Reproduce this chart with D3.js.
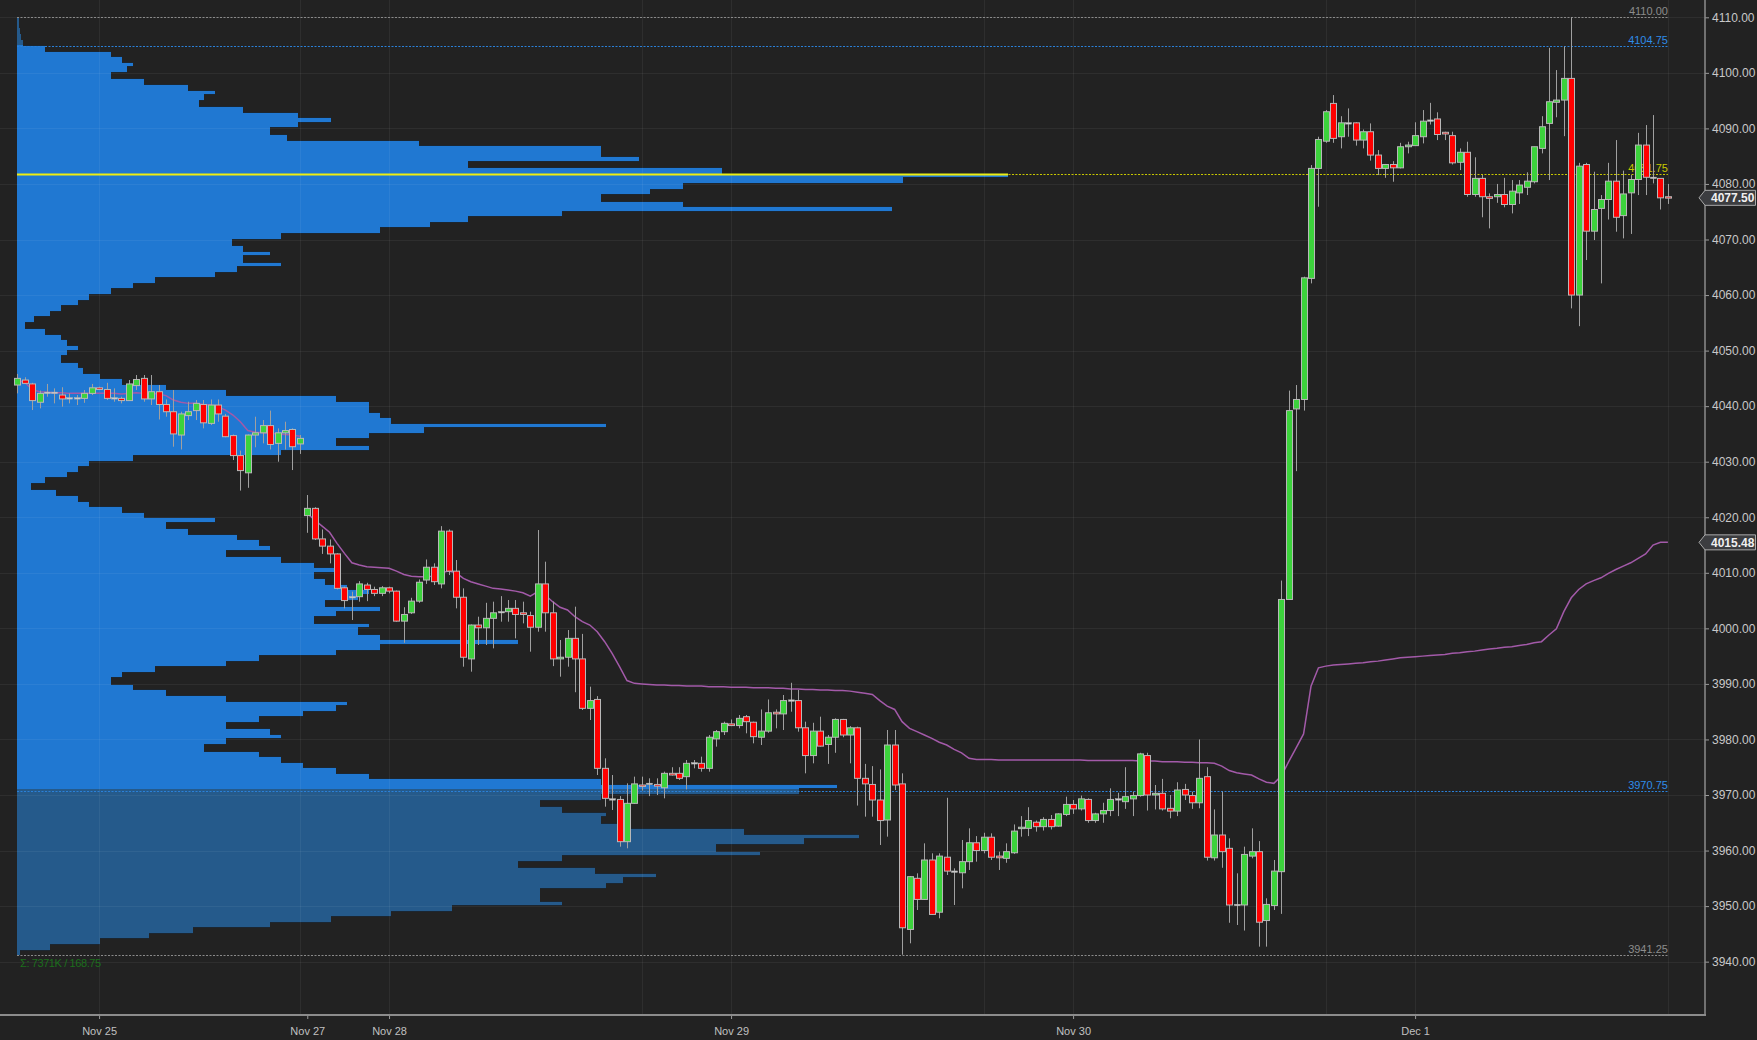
<!DOCTYPE html>
<html><head><meta charset="utf-8">
<script src="https://cdn.jsdelivr.net/npm/d3@7"></script>
<style>
html,body{margin:0;padding:0;background:#222222;overflow:hidden}
svg{display:block}
text{font-family:"Liberation Sans",Arial,sans-serif}
</style></head><body>
<svg id="chart" width="1757" height="1040"></svg>
<script>
// ---------------- DATA ----------------
const opens = [
4043.8,4044.7,4044.0,4040.7,4042.4,4042.4,4042.0,4041.4,4041.4,4041.4,
4042.3,4043.3,4043.0,4041.4,4041.4,4041.0,4043.7,4045.0,4041.3,4042.6,
4040.3,4039.0,4034.8,4038.3,4039.2,4040.3,4036.9,4040.2,4038.2,4034.7,
4031.1,4028.0,4034.8,4035.2,4036.5,4033.3,4035.2,4035.8,4033.2,4020.3,
4021.6,4016.1,4014.8,4013.4,4007.3,4005.5,4005.7,4007.8,4007.0,4006.3,
4007.3,4006.7,4001.3,4002.8,4004.9,4008.7,4011.0,4008.0,4017.5,4010.3,
4005.6,3994.5,4000.6,4000.1,4001.8,4002.9,4003.0,4003.6,4002.8,4002.3,
4000.2,4008.0,4002.8,3994.5,3994.8,3998.2,3994.5,3985.6,3987.2,3974.8,
3969.2,3969.2,3961.6,3968.5,3971.8,3972.0,3971.9,3971.3,3973.9,3973.9,
3973.3,3975.7,3975.7,3974.8,3980.1,3981.4,3982.8,3982.5,3984.1,3983.1,
3980.4,3981.5,3984.9,3984.6,3987.0,3987.0,3982.1,3977.1,3981.5,3979.1,
3980.4,3983.6,3980.8,3982.1,3973.0,3971.9,3969.1,3965.5,3979.0,3972.0,
3945.8,3955.0,3951.2,3958.3,3948.9,3958.8,3956.2,3956.0,3958.0,3961.4,
3960.0,3962.4,3959.0,3958.6,3959.6,3964.0,3964.0,3965.1,3964.3,3965.6,
3964.4,3966.5,3968.3,3967.5,3969.2,3965.4,3966.6,3967.2,3969.2,3968.8,
3969.3,3969.9,3977.1,3970.0,3970.3,3967.6,3967.1,3971.0,3969.9,3968.6,
3973.3,3958.7,3962.8,3960.4,3950.2,3950.2,3959.0,3959.8,3947.4,3950.1,
3956.2,4005.2,4039.5,4041.2,4063.0,4082.8,4087.7,4094.5,4088.5,4090.9,
4091.0,4087.9,4089.4,4085.2,4082.8,4083.5,4082.9,4086.7,4086.9,4088.5,
4091.4,4091.7,4089.3,4088.7,4083.9,4085.7,4078.1,4081.0,4077.7,4077.7,
4078.1,4076.3,4078.4,4079.4,4080.4,4086.4,4090.9,4094.7,4095.1,4099.0,
4060.0,4083.5,4071.5,4075.6,4077.2,4080.5,4074.3,4078.4,4080.8,4087.0,
4081.1,4081.0,4077.7];

const highs = [
4045.8,4045.2,4044.2,4042.8,4044.0,4043.2,4043.4,4042.3,4042.0,4042.9,
4044.0,4043.5,4044.2,4043.2,4041.7,4044.7,4045.6,4045.6,4045.6,4043.8,
4041.2,4042.9,4039.0,4040.8,4041.1,4041.1,4041.2,4041.2,4038.6,4034.9,
4032.0,4034.9,4038.1,4037.5,4039.2,4036.0,4037.2,4036.0,4034.8,4024.0,
4021.8,4017.8,4016.0,4013.5,4007.5,4006.6,4008.5,4008.2,4007.5,4007.6,
4007.5,4006.8,4003.8,4005.5,4008.8,4012.4,4011.7,4018.4,4017.8,4012.3,
4007.2,4000.7,4002.1,4004.6,4004.8,4005.8,4005.1,4005.1,4004.8,4003.0,
4017.7,4012.0,4004.8,3997.9,3999.7,4003.9,3999.0,3989.5,3987.8,3976.6,
3973.6,3969.8,3972.1,3973.3,3973.3,3973.0,3973.0,3974.2,3975.0,3975.0,
3976.3,3976.3,3976.9,3980.8,3981.7,3983.2,3983.6,3984.4,3984.4,3983.2,
3985.4,3987.2,3985.4,3988.0,3990.2,3988.9,3983.2,3983.0,3984.1,3980.8,
3983.8,3983.7,3982.4,3982.3,3975.6,3975.2,3974.6,3981.7,3981.7,3973.9,
3955.4,3955.9,3961.3,3959.5,3959.5,3969.5,3956.8,3961.9,3964.0,3962.6,
3963.2,3963.1,3959.8,3961.3,3964.7,3966.2,3967.8,3965.4,3966.0,3966.4,
3966.7,3969.7,3969.1,3969.9,3969.4,3966.8,3968.6,3971.2,3970.4,3975.0,
3970.6,3977.6,3977.6,3971.8,3972.9,3970.0,3972.3,3972.0,3970.6,3980.0,
3975.0,3967.4,3970.6,3962.2,3955.9,3960.7,3964.0,3961.7,3951.4,3958.3,
4008.6,4042.8,4043.8,4063.3,4083.4,4088.5,4093.3,4096.0,4092.2,4093.6,
4091.1,4089.8,4090.9,4086.1,4083.6,4084.1,4087.4,4087.6,4091.1,4093.3,
4094.6,4092.9,4089.4,4089.4,4086.4,4087.6,4084.8,4081.6,4078.3,4080.0,
4081.1,4080.7,4080.7,4082.1,4086.7,4092.2,4104.5,4100.5,4104.75,4110.0,
4083.8,4083.8,4082.2,4078.0,4083.8,4087.9,4082.4,4081.6,4089.2,4090.6,
4092.4,4081.0,4080.0];

const lows = [
4042.3,4044.0,4039.3,4039.6,4041.7,4040.5,4039.9,4040.5,4040.2,4040.6,
4042.0,4042.9,4041.1,4040.8,4040.5,4041.0,4042.9,4040.8,4040.2,4037.6,
4038.1,4032.7,4032.2,4037.5,4037.5,4036.0,4036.6,4037.2,4034.4,4030.3,
4024.8,4025.3,4032.6,4033.3,4032.2,4030.0,4032.2,4028.5,4031.4,4017.2,
4015.9,4013.4,4011.7,4007.0,4003.6,4001.5,4004.8,4004.9,4005.8,4005.8,
4006.3,4001.2,3997.4,4002.6,4004.6,4008.0,4007.8,4007.2,4009.6,4003.6,
3993.1,3992.2,3997.0,3997.0,3996.4,4001.2,4001.2,3998.2,4000.9,3995.8,
3999.4,3999.4,3993.2,3991.3,3993.1,3988.5,3985.3,3983.5,3973.6,3967.9,
3967.3,3960.7,3960.4,3968.4,3970.8,3969.8,3970.0,3969.4,3973.5,3972.7,
3971.0,3974.8,3974.2,3974.2,3978.7,3980.8,3982.4,3982.0,3981.1,3979.3,
3979.0,3981.2,3982.0,3981.7,3985.0,3981.4,3973.9,3975.7,3978.7,3975.6,
3977.6,3980.4,3975.7,3968.1,3966.1,3966.1,3961.0,3962.5,3970.9,3941.25,
3943.3,3949.3,3951.1,3948.4,3947.8,3955.6,3950.2,3953.2,3956.5,3958.0,
3959.5,3958.3,3956.5,3957.8,3959.4,3962.5,3962.6,3963.4,3963.6,3963.8,
3964.3,3966.2,3966.6,3967.2,3965.0,3965.0,3965.0,3966.2,3966.2,3967.5,
3966.2,3969.7,3967.2,3967.4,3967.2,3965.8,3966.2,3969.1,3967.5,3967.6,
3958.2,3958.2,3956.9,3947.0,3946.6,3945.6,3958.6,3942.7,3942.7,3949.3,
3948.6,4005.1,4028.3,4039.2,4062.1,4075.9,4087.4,4087.4,4086.4,4088.5,
4086.9,4086.4,4084.2,4081.6,4081.1,4080.4,4082.8,4085.5,4086.9,4087.3,
4090.7,4087.9,4087.9,4083.5,4082.5,4077.7,4077.7,4074.0,4072.0,4076.6,
4075.8,4074.7,4076.4,4078.0,4080.1,4085.5,4080.7,4092.0,4088.6,4057.6,
4054.4,4066.3,4069.9,4062.1,4073.6,4071.4,4070.2,4071.0,4078.0,4078.0,
4080.1,4075.4,4076.4];

const closes = [
4045.0,4044.1,4041.0,4042.3,4042.4,4042.3,4041.3,4041.4,4041.4,4042.3,
4043.3,4043.0,4041.4,4041.4,4041.0,4044.0,4044.8,4041.3,4042.6,4040.3,
4039.0,4035.0,4038.6,4039.0,4040.5,4037.0,4040.2,4038.6,4034.5,4031.1,
4028.4,4034.8,4035.2,4036.5,4033.1,4035.2,4035.6,4032.7,4034.2,4021.6,
4016.1,4014.8,4013.4,4007.2,4005.0,4005.6,4008.0,4007.0,4006.3,4007.3,
4006.7,4001.3,4002.5,4004.9,4008.3,4011.0,4008.4,4017.5,4010.3,4005.6,
3994.8,4000.6,4000.1,4001.8,4002.8,4002.9,4003.6,4002.5,4002.5,4000.2,
4008.0,4002.8,3994.5,3994.8,3998.2,3994.5,3985.6,3987.0,3974.8,3969.4,
3969.2,3961.6,3968.5,3972.0,3971.6,3972.0,3971.6,3973.9,3973.6,3973.0,
3975.7,3975.7,3974.8,3980.4,3981.4,3982.9,3982.5,3983.8,3983.2,3980.5,
3981.5,3984.8,3984.6,3987.0,3987.0,3982.1,3977.1,3981.5,3978.8,3980.4,
3983.6,3980.8,3982.1,3973.0,3972.0,3969.1,3965.4,3979.0,3971.8,3946.1,
3955.3,3951.2,3958.3,3948.5,3959.0,3956.3,3956.2,3958.0,3961.4,3960.0,
3962.4,3958.8,3958.7,3959.8,3963.5,3964.2,3965.4,3964.3,3965.6,3964.3,
3966.6,3968.3,3967.5,3969.3,3965.4,3966.6,3967.2,3969.2,3969.2,3969.7,
3969.9,3977.4,3970.0,3970.3,3967.5,3967.1,3970.9,3970.0,3968.6,3973.0,
3958.8,3962.8,3959.8,3950.2,3950.2,3959.3,3959.8,3947.1,3950.3,3956.3,
4005.2,4039.2,4041.2,4063.1,4082.8,4088.0,4093.0,4088.2,4091.0,4090.9,
4087.9,4089.4,4085.2,4082.8,4083.5,4082.9,4086.7,4087.0,4088.7,4091.3,
4091.4,4088.9,4089.0,4083.8,4085.7,4078.1,4081.0,4077.7,4077.4,4078.1,
4076.3,4078.7,4079.8,4080.5,4086.7,4090.3,4094.8,4095.1,4099.0,4060.0,
4083.2,4071.5,4075.4,4077.2,4080.5,4074.0,4078.2,4080.8,4087.0,4081.2,
4081.1,4077.5,4077.5];

// VWAP, one value per bar; it restarts at bar vwapReset
const vwap = [
4044.6,4044.3,4043.0,4042.6,4042.5,4042.4,4042.4,4042.3,4042.3,4042.3,
4042.3,4042.3,4042.3,4042.3,4042.2,4042.3,4042.4,4042.3,4042.3,4042.2,
4041.9,4041.1,4040.7,4040.5,4040.5,4040.3,4040.2,4039.9,4039.3,4038.4,
4037.2,4035.6,4035.3,4035.2,4035.1,4035.0,4034.9,4034.8,4034.6,4020.7,
4019.5,4018.4,4017.3,4015.3,4013.5,4011.8,4011.4,4011.1,4011.0,4010.9,
4010.8,4010.3,4009.7,4009.4,4009.3,4009.3,4009.4,4010.0,4010.3,4010.0,
4009.0,4008.4,4008.0,4007.6,4007.2,4007.1,4006.9,4006.7,4006.4,4005.8,
4006.6,4006.0,4004.8,4003.8,4003.3,4002.1,4001.2,4000.6,3999.4,3997.6,
3995.5,3993.1,3990.6,3990.1,3990.0,3989.9,3989.8,3989.8,3989.7,3989.7,
3989.6,3989.6,3989.6,3989.5,3989.5,3989.5,3989.4,3989.4,3989.4,3989.3,
3989.3,3989.3,3989.2,3989.2,3989.1,3989.1,3989.0,3989.0,3988.9,3988.9,
3988.8,3988.8,3988.7,3988.5,3988.3,3988.1,3987.0,3986.0,3985.4,3983.2,
3982.0,3981.4,3980.8,3980.2,3979.5,3979.0,3978.2,3977.6,3976.6,3976.4,
3976.4,3976.4,3976.3,3976.3,3976.3,3976.3,3976.3,3976.3,3976.3,3976.3,
3976.3,3976.3,3976.3,3976.3,3976.2,3976.2,3976.2,3976.2,3976.2,3976.2,
3976.2,3976.1,3976.1,3976.1,3976.0,3976.0,3976.0,3975.9,3975.9,3975.8,
3975.8,3975.7,3975.2,3974.4,3974.0,3973.8,3973.6,3972.9,3972.3,3972.1,
3973.4,3976.0,3978.5,3981.0,3989.6,3992.9,3993.2,3993.4,3993.5,3993.6,
3993.7,3993.8,3994.0,3994.1,3994.3,3994.5,3994.7,3994.8,3994.9,3995.0,
3995.1,3995.2,3995.3,3995.5,3995.6,3995.8,3995.9,3996.1,3996.3,3996.4,
3996.6,3996.7,3996.9,3997.1,3997.4,3997.6,3998.8,3999.9,4003.0,4005.5,
4007.0,4008.0,4008.6,4009.1,4009.9,4010.6,4011.2,4011.8,4012.6,4013.4,
4015.0,4015.5,4015.48];
const vwapReset = 39;

// Volume profile: volume (K) per 1-point level, from profileLow upward
const profileLow = 3941;
const profileVolumes = [
0.5,6,15,24,32,46,57,68,79,99,
95,95,107,110,116,105,91,99,135,127,
143,153,132,110,106,107,99,95,106,142,
149,106,64,58,52,48,44,34,38,48,
46,38,44,52,58,60,38,27,21,17,
19,25,38,44,58,66,91,66,62,64,
54,58,66,56,62,64,60,56,54,58,
54,48,38,46,44,40,31,27,36,23,
19,13,11,7,2.5,5,9,11,13,21,
48,64,58,64,74,107,68,66,64,64,
58,38,27,19,15,12,11,8,9,11,
9,8,5,1.5,3,6,8,11,13,17,
21,25,36,40,48,41,46,41,39,48,
66,75,82,99,159,121,106,115,121,161,
180,128,82,113,106,106,73,49,46,51,
57,51,41,33,34,36,31,23,17,20,
21,19,17,5,1,0.7,0.5,0.4,0.3];

const rangeHigh = 4110.00, vah = 4104.75, poc = 4081.75, val = 3970.75, rangeLow = 3941.25;
const lastPrice = 4077.50, lastVwap = 4015.48;
const summaryText = "Σ: 7371K / 168.75";

const yTicks = [3940,3950,3960,3970,3980,3990,4000,4010,4020,4030,4040,4050,4060,4070,4080,4090,4100,4110];
const dateTickIdx = [11, 39, 50, 96, 142, 188];
const dateLabels = ["Nov 25","Nov 27","Nov 28","Nov 29","Nov 30","Dec 1"];
const gridIdx = [11, 38, 50, 84, 96, 130, 142, 176, 188, 222];

// ---------------- LAYOUT ----------------
const W = 1757, H = 1040, plotRight = 1705, plotBottom = 1015;
const svg = d3.select("#chart");
svg.append("rect").attr("width", W).attr("height", H).attr("fill", "#222222");

const n = opens.length;
const x = d3.scaleLinear().domain([0, n - 1]).range([17.3, 1667.9]);
const y = d3.scaleLinear().domain([3940, 4110]).range([961.65, 17.3]);
const xVol = d3.scaleLinear().domain([0, d3.max(profileVolumes)]).range([17, 1008]);
const lineEnd = x(n - 1);

// ---- volume profile ----
const gProf = svg.append("g").attr("shape-rendering", "crispEdges");
const edgeLines = [];
profileVolumes.forEach((v, k) => {
  const p = profileLow + k;
  const inside = p >= Math.ceil(val) && p < vah;
  const y0 = Math.round(y(p + 1)), y1 = Math.round(y(p));
  const xr = xVol(v);
  gProf.append("rect")
    .attr("x", 17)
    .attr("y", y0)
    .attr("width", Math.max(0.5, xr - 17))
    .attr("height", y1 - y0)
    .attr("fill", inside ? "#2078d2" : "#255a8b");
  // dark step edge where this level sticks out beyond the level above
  const above = k + 1 < profileVolumes.length ? xVol(profileVolumes[k + 1]) : 17;
  if (xr > above + 2) edgeLines.push({x1: above, x2: xr, y: y0});
  const below = k > 0 ? xVol(profileVolumes[k - 1]) : 17;
  if (xr > below + 2) edgeLines.push({x1: below, x2: xr, y: y1 - 1});
});
edgeLines.forEach(e => gProf.append("rect").attr("x", e.x1).attr("y", e.y)
  .attr("width", e.x2 - e.x1).attr("height", 1).attr("fill", "#1b2631"));

// ---- grid ----
const gGrid = svg.append("g").attr("stroke", "rgba(255,255,255,0.055)").attr("stroke-width", 1);
yTicks.forEach(t => gGrid.append("line").attr("x1", 0).attr("x2", plotRight)
  .attr("y1", Math.round(y(t)) + 0.5).attr("y2", Math.round(y(t)) + 0.5));
gridIdx.forEach(i => gGrid.append("line").attr("y1", 0).attr("y2", plotBottom)
  .attr("x1", Math.round(x(i)) + 0.5).attr("x2", Math.round(x(i)) + 0.5));

// ---- level lines ----
const levels = [
  {p: rangeHigh, c: "#8a8a8a", t: "#8c8c8c"},
  {p: vah, c: "#2a80d8", t: "#2f8ce8"},
  {p: val, c: "#2a80d8", t: "#2f8ce8"},
  {p: rangeLow, c: "#8a8a8a", t: "#8c8c8c"}
];
const gLev = svg.append("g");
levels.forEach(l => {
  const yy = Math.round(y(l.p)) + 0.5;
  gLev.append("line").attr("x1", 17).attr("x2", lineEnd).attr("y1", yy).attr("y2", yy)
    .attr("stroke", l.c).attr("stroke-width", 1).attr("stroke-dasharray", "2,1.5");
  gLev.append("text").attr("x", lineEnd).attr("y", yy - 3).attr("text-anchor", "end")
    .attr("font-size", 11).attr("fill", l.t).text(l.p.toFixed(2));
});
// POC
const yPoc = Math.round(y(poc)) + 0.5;
gLev.append("line").attr("x1", xVol(d3.max(profileVolumes)) - 10).attr("x2", lineEnd).attr("y1", yPoc).attr("y2", yPoc)
  .attr("stroke", "#c8c800").attr("stroke-width", 1).attr("stroke-dasharray", "2,1.5");
gLev.append("line").attr("x1", 17).attr("x2", xVol(d3.max(profileVolumes))).attr("y1", yPoc).attr("y2", yPoc)
  .attr("stroke", "#eeee10").attr("stroke-width", 2);
gLev.append("text").attr("x", lineEnd).attr("y", yPoc - 3).attr("text-anchor", "end")
  .attr("font-size", 11).attr("fill", "#c8c800").text(poc.toFixed(2));

// ---- VWAP ----
const vline = d3.line().x(d => x(d.i)).y(d => y(d.v));
const vpts = vwap.map((v, i) => ({i, v}));
[vpts.slice(0, vwapReset), vpts.slice(vwapReset)].forEach(seg => {
  svg.append("path").attr("d", vline(seg)).attr("fill", "none")
    .attr("stroke", "#a35aa9").attr("stroke-width", 1.5);
});

// ---- candles ----
const gC = svg.append("g");
for (let i = 0; i < n; i++) {
  const cx = Math.round(x(i)) + 0.5;
  const o = opens[i], c = closes[i], h = highs[i], l = lows[i];
  gC.append("line").attr("x1", cx).attr("x2", cx).attr("y1", y(h)).attr("y2", y(l))
    .attr("stroke", "#a0a0a0").attr("stroke-width", 1);
  const top = y(Math.max(o, c)), bot = y(Math.min(o, c));
  const doji = Math.abs(o - c) < 0.15;
  gC.append("rect").attr("x", cx - 3).attr("y", top - (doji ? 0.7 : 0))
    .attr("width", 6).attr("height", Math.max(1.4, bot - top))
    .attr("fill", doji ? "#d0d0d0" : (c >= o ? "#3cd23c" : "#ff0000"))
    .attr("stroke", "#b8b8b8").attr("stroke-width", doji ? 0.5 : 1);
}

// ---- axes ----
const yAxis = d3.axisRight(y).tickValues(yTicks).tickFormat(d3.format(".2f")).tickSize(4).tickPadding(3);
const gy = svg.append("g").attr("transform", `translate(${plotRight},0)`).call(yAxis);
gy.select(".domain").remove();
gy.selectAll("line").attr("stroke", "#9a9a9a");
gy.selectAll("text").attr("fill", "#c8c8c8").attr("font-size", 12)
  .attr("font-family", "'Liberation Sans', Arial, sans-serif");

const xAxis = d3.axisBottom(x).tickValues(dateTickIdx).tickFormat((d, k) => dateLabels[k]).tickSize(4).tickPadding(8);
const gx = svg.append("g").attr("transform", `translate(0,${plotBottom})`).call(xAxis);
gx.select(".domain").remove();
gx.selectAll("line").attr("stroke", "#9a9a9a");
gx.selectAll("text").attr("fill", "#c0c0c0").attr("font-size", 11)
  .attr("font-family", "'Liberation Sans', Arial, sans-serif");

svg.append("line").attr("x1", 0).attr("x2", plotRight + 1).attr("y1", plotBottom).attr("y2", plotBottom)
  .attr("stroke", "#8c8c8c").attr("stroke-width", 2);
svg.append("line").attr("x1", plotRight).attr("x2", plotRight).attr("y1", 0).attr("y2", plotBottom)
  .attr("stroke", "#8c8c8c").attr("stroke-width", 1.5);

// ---- price tags ----
function tag(val, txt) {
  const yc = y(val);
  const g = svg.append("g");
  g.append("path").attr("d", `M${plotRight - 6},${yc} L${plotRight},${yc - 7.5} L1755.5,${yc - 7.5} L1755.5,${yc + 7.5} L${plotRight},${yc + 7.5} Z`)
    .attr("fill", "#3c3d40").attr("stroke", "#a8a8a8").attr("stroke-width", 1);
  g.append("text").attr("x", 1711).attr("y", yc + 4.5).attr("font-size", 12)
    .attr("font-weight", "bold").attr("fill", "#f0f0f0").text(txt);
}
tag(lastPrice, lastPrice.toFixed(2));
tag(lastVwap, lastVwap.toFixed(2));

// ---- summary ----
svg.append("text").attr("x", 20).attr("y", 967).attr("font-size", 11)
  .attr("fill", "#1c6e1c").attr("letter-spacing", "-0.4").text(summaryText);
</script>
</body></html>
